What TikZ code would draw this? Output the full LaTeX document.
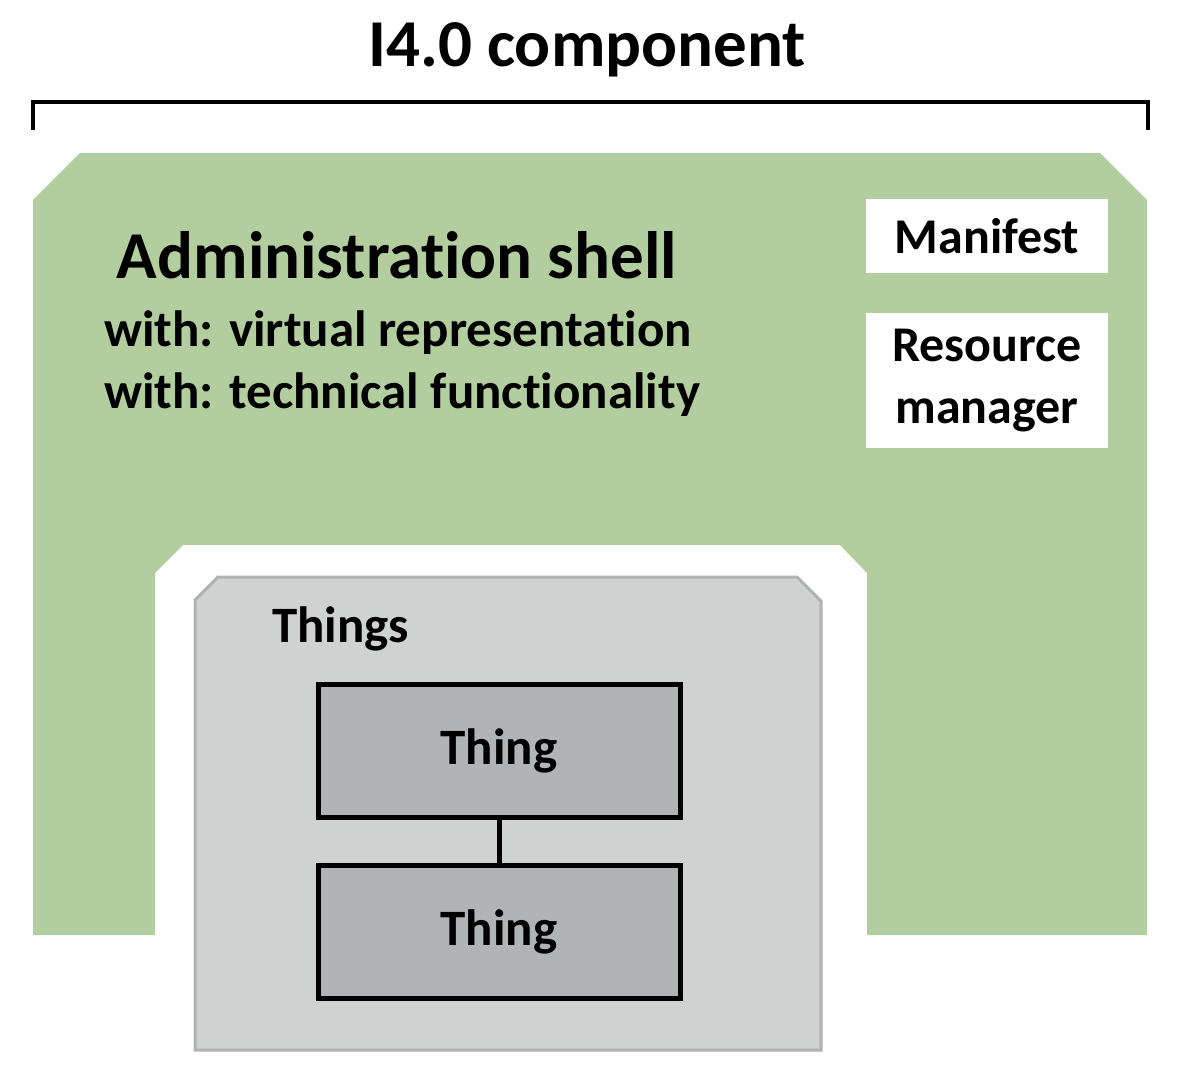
\documentclass[tikz,border=0pt]{standalone}
\usepackage{fontspec}
\setmainfont{Carlito}[RawFeature=-liga]
\begin{document}
\begin{tikzpicture}[x=1pt,y=-1pt,
  lbl/.style={font=\bfseries\fontsize{51}{60}\selectfont, inner sep=0pt},
  thing/.style={draw=black, line width=5pt, fill=thingc, minimum width=362pt, minimum height=133pt, font=\bfseries\fontsize{51}{60}\selectfont},
  wbox/.style={fill=white, inner sep=0pt, align=center, font=\bfseries\fontsize{50}{62}\selectfont}]
\definecolor{shell}{HTML}{B3CE9E}
\definecolor{thingsc}{HTML}{D0D2D1}
\definecolor{thingsb}{HTML}{B0B2B1}
\definecolor{thingc}{HTML}{B1B4B5}
\useasboundingbox (0,0) rectangle (1190,1075);
\node[font=\bfseries\fontsize{67}{76}\selectfont, inner sep=0pt] (title) at (587,50) {I4.0 component};
\draw[line width=4pt] (33,130) -- (33,102) -- (1148,102) -- (1148,130);
\fill[shell] (33,200) -- (80,153) -- (1100,153) -- (1147,200) -- (1147,935) -- (867,935) -- (867,573) -- (840,545) -- (183,545) -- (155,573) -- (155,935) -- (33,935) -- cycle;
\node[font=\bfseries\fontsize{67}{76}\selectfont, inner sep=0pt, anchor=base] (admin) at (397,278) {Administration shell};
\node[lbl, anchor=base west] (w1) at (104,346) {with: virtual representation};
\node[lbl, anchor=base west] (w2) at (104,408) {with: technical functionality};
\node[wbox, minimum width=242pt, minimum height=74pt] (man) at (987,236) {Manifest};
\node[wbox, minimum width=242pt, minimum height=135pt] (rm) at (987,380.5) {Resource\\manager};
\draw[fill=thingsc, draw=thingsb, line width=3pt] (195,600) -- (218,577) -- (797,577) -- (821,601) -- (821,1050) -- (195,1050) -- cycle;
\node[lbl, anchor=base west] (things) at (272,642) {Things};
\node[thing] (t1) at (499,750.5) {Thing};
\node[thing] (t2) at (499,931.5) {Thing};
\draw[line width=5pt] (t1.south) -- (t2.north);
\end{tikzpicture}
\end{document}
